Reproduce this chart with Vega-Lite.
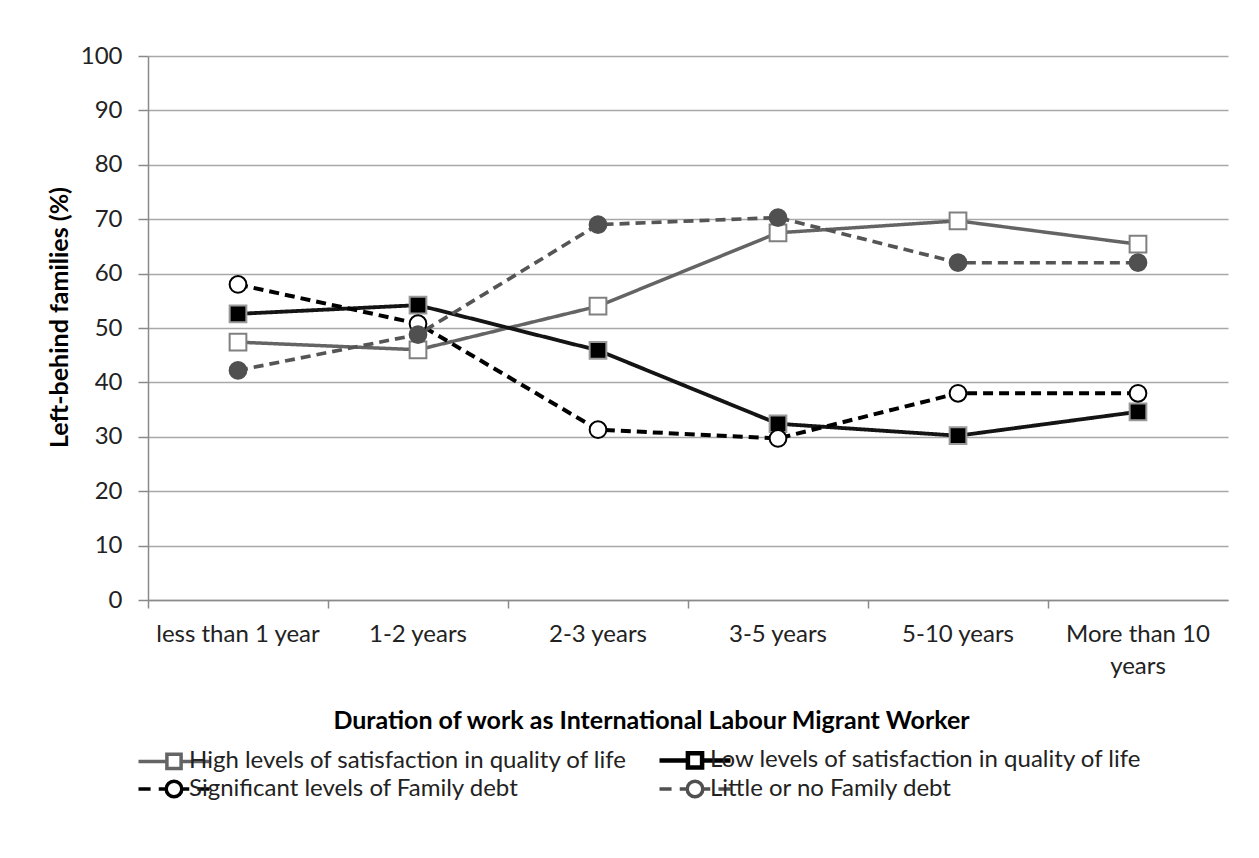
{
  "$schema": "https://vega.github.io/schema/vega-lite/v6.json",
  "width": 1080,
  "height": 544,
  "autosize": {"type": "none"},
  "padding": {"left": 148, "top": 56, "right": 31, "bottom": 258},
  "background": "white",
  "config": {
    "font": "Lato",
    "view": {"stroke": null},
    "axis": {"labelFont": "Lato", "titleFont": "Lato", "labelColor": "#222222", "titleColor": "#000000", "domainColor": "#8a8a8a", "tickColor": "#8a8a8a", "gridColor": "#a8a8a8"}
  },
  "data": {
    "values": [
      {"duration": "less than 1 year", "series": "High levels of satisfaction in quality of life", "value": 47.4},
      {"duration": "1-2 years", "series": "High levels of satisfaction in quality of life", "value": 46.0},
      {"duration": "2-3 years", "series": "High levels of satisfaction in quality of life", "value": 54.0},
      {"duration": "3-5 years", "series": "High levels of satisfaction in quality of life", "value": 67.5},
      {"duration": "5-10 years", "series": "High levels of satisfaction in quality of life", "value": 69.7},
      {"duration": "More than 10 years", "series": "High levels of satisfaction in quality of life", "value": 65.4},
      {"duration": "less than 1 year", "series": "Low levels of satisfaction in quality of life", "value": 52.6},
      {"duration": "1-2 years", "series": "Low levels of satisfaction in quality of life", "value": 54.2},
      {"duration": "2-3 years", "series": "Low levels of satisfaction in quality of life", "value": 45.9},
      {"duration": "3-5 years", "series": "Low levels of satisfaction in quality of life", "value": 32.4},
      {"duration": "5-10 years", "series": "Low levels of satisfaction in quality of life", "value": 30.2},
      {"duration": "More than 10 years", "series": "Low levels of satisfaction in quality of life", "value": 34.6},
      {"duration": "less than 1 year", "series": "Significant levels of Family debt", "value": 58.0},
      {"duration": "1-2 years", "series": "Significant levels of Family debt", "value": 50.8},
      {"duration": "2-3 years", "series": "Significant levels of Family debt", "value": 31.3},
      {"duration": "3-5 years", "series": "Significant levels of Family debt", "value": 29.7},
      {"duration": "5-10 years", "series": "Significant levels of Family debt", "value": 38.0},
      {"duration": "More than 10 years", "series": "Significant levels of Family debt", "value": 38.0},
      {"duration": "less than 1 year", "series": "Little or no Family debt", "value": 42.2},
      {"duration": "1-2 years", "series": "Little or no Family debt", "value": 48.8},
      {"duration": "2-3 years", "series": "Little or no Family debt", "value": 69.0},
      {"duration": "3-5 years", "series": "Little or no Family debt", "value": 70.3},
      {"duration": "5-10 years", "series": "Little or no Family debt", "value": 62.0},
      {"duration": "More than 10 years", "series": "Little or no Family debt", "value": 62.0}
    ]
  },
  "encoding": {
    "x": {
      "field": "duration", "type": "ordinal",
      "sort": ["less than 1 year", "1-2 years", "2-3 years", "3-5 years", "5-10 years", "More than 10 years"],
      "scale": {"type": "band", "paddingInner": 0, "paddingOuter": 0},
      "axis": {
        "title": "Duration of work as International Labour Migrant Worker",
        "titleFontSize": 25, "titleFontWeight": "bold", "titlePadding": 30, "titleX": 503,
        "labelFontSize": 24, "labelAngle": 0, "labelPadding": 14,
        "labelExpr": "datum.label == 'More than 10 years' ? ['More than 10', 'years'] : datum.label",
        "labelLineHeight": 32,
        "bandPosition": 0, "tickSize": 8, "tickWidth": 1.5, "domainWidth": 1.5,
        "grid": false
      }
    },
    "y": {
      "field": "value", "type": "quantitative",
      "scale": {"domain": [0, 100], "nice": false},
      "axis": {
        "title": "Left-behind families (%)",
        "titleFontSize": 25, "titleFontWeight": "bold", "titlePadding": 8, "titleY": 261,
        "labelFontSize": 24, "labelPadding": 16,
        "values": [0, 10, 20, 30, 40, 50, 60, 70, 80, 90, 100],
        "tickSize": 10, "tickWidth": 1.5, "domainWidth": 1.5, "gridWidth": 1.3
      }
    }
  },
  "layer": [
    {
      "mark": {"type": "line", "strokeCap": "butt"},
      "encoding": {
        "color": {
          "field": "series", "type": "nominal",
          "scale": {"range": ["#646464", "#555555", "#141414", "#000000"]},
          "legend": null
        },
        "strokeDash": {
          "field": "series", "type": "nominal",
          "scale": {"range": [[1, 0], [10, 6], [1, 0], [10, 6]]},
          "legend": null
        },
        "strokeWidth": {
          "field": "series", "type": "ordinal",
          "scale": {"range": [3.5, 4, 5, 4]},
          "legend": null
        }
      }
    },
    {
      "mark": {"type": "point", "opacity": 1, "strokeWidth": 2},
      "encoding": {
        "shape": {
          "field": "series", "type": "nominal",
          "scale": {"range": ["square", "circle", "square", "circle"]},
          "legend": null
        },
        "fill": {
          "field": "series", "type": "nominal",
          "scale": {"range": ["#ffffff", "#505050", "#000000", "#ffffff"]},
          "legend": null
        },
        "stroke": {
          "field": "series", "type": "nominal",
          "scale": {"range": ["#808080", "#505050", "#9a9a9a", "#000000"]},
          "legend": null
        },
        "size": {"value": 280}
      }
    },
    {
      "mark": {"type": "point", "size": 0, "color": "#000000"},
      "encoding": {
        "opacity": {
          "field": "series", "type": "nominal",
          "scale": {
            "domain": ["High levels of satisfaction in quality of life", "Low levels of satisfaction in quality of life", "Significant levels of Family debt", "Little or no Family debt"],
            "range": [1, 1, 1, 1]
          },
          "legend": {
            "title": null, "orient": "none", "legendX": 14, "legendY": 692, "direction": "horizontal",
            "columns": 2, "columnPadding": 22, "rowPadding": -37,
            "labelFont": "Lato", "labelFontSize": 24, "labelColor": "#222222", "labelLimit": 700, "labelOffset": 3,
            "symbolSize": 5041,
            "symbolType": {"expr": "datum.value == 'High levels of satisfaction in quality of life' || datum.value == 'Low levels of satisfaction in quality of life' ? 'M-1,0H-0.2M0.2,0H1M-0.2,-0.2H0.2V0.2H-0.2Z' : 'M-1,0H-0.66M-0.43,0H-0.2M0.2,0H0.43M0.66,0H1M0.22,0A0.22,0.22 0 1,1 -0.22,0A0.22,0.22 0 1,1 0.22,0Z'"},
            "symbolFillColor": {"expr": "datum.value == 'Low levels of satisfaction in quality of life' ? '#000000' : datum.value == 'Little or no Family debt' ? '#505050' : '#ffffff'"},
            "symbolStrokeColor": {"expr": "datum.value == 'High levels of satisfaction in quality of life' ? '#646464' : datum.value == 'Little or no Family debt' ? '#505050' : '#000000'"},
            "symbolStrokeWidth": {"expr": "datum.value == 'Low levels of satisfaction in quality of life' ? 4.5 : 3.5"}
          }
        }
      }
    }
  ]
}
